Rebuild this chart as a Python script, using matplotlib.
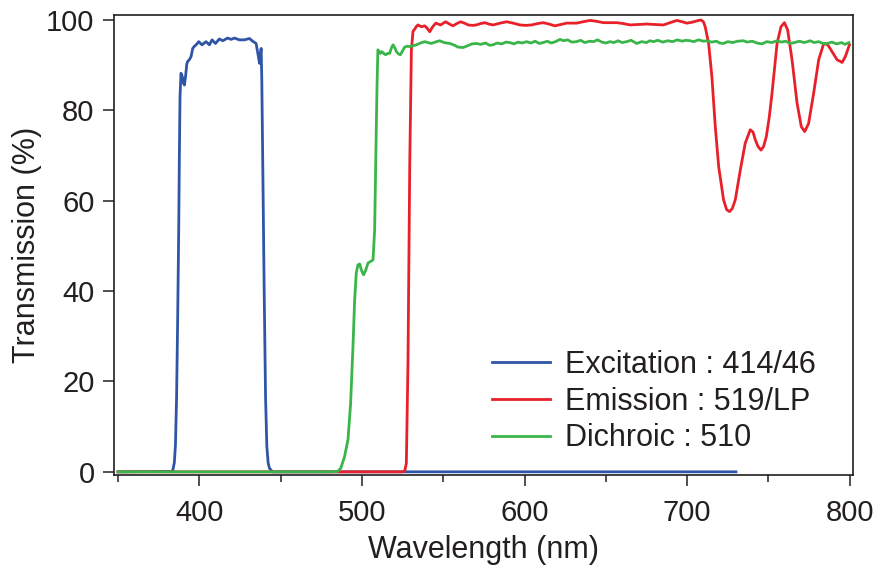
import matplotlib
matplotlib.use("Agg")
import matplotlib.pyplot as plt
from matplotlib.ticker import MultipleLocator

# ---- data ----
blue_wl = [350, 383.5, 384.6, 385.3, 386, 386.7, 387.3, 387.7, 388.1, 388.7, 389.5, 390.2, 390.8,
           391.5, 392.3, 392.8, 394, 394.9, 395.9, 397, 398, 399.6, 401.6, 404.1, 406.2, 407.8,
           409.9, 412.3, 414.4, 417.4, 419.5, 421.6, 424.6, 427.7, 430.8, 432.8, 434.9, 436.3,
           437, 437.6, 438, 438.4, 439, 439.8, 440.7, 441.5, 442.3, 443.1, 445, 730]
blue_t = [0, 0.1, 2, 6, 16.7, 35, 53.5, 70, 83, 88.2, 87.5, 86, 85.6,
          87.5, 90.3, 90.8, 91.3, 91.9, 93.7, 94.2, 94.5, 95.2, 94.5, 95.2, 94.5, 95.6,
          94.8, 95.8, 95.4, 96.0, 95.7, 96.0, 95.6, 95.6, 95.9, 95.3, 94.8, 91.9,
          90.4, 92.5, 93.7, 86.7, 68, 42, 16.7, 5.6, 2, 0.8, 0, 0]

red_wl = [350, 525, 526.3, 527.3, 528.3, 529.4, 530.4, 531.4, 532.5, 533.5, 534.5, 536.5, 538.6,
          540, 541.7, 543.5, 545.4, 548.3, 551.5, 553.8, 556, 558.3, 560.6, 563, 565.3, 568,
          570.4, 573, 575.6, 578, 580.7, 585, 589, 593, 597.1, 600.7, 604.3, 608, 611.5, 615,
          618.7, 622.3, 625.9, 632, 636, 640.3, 644.5, 648.5, 656.7, 660.8, 664.9, 670, 675.2,
          680, 685.4, 689.5, 693.7, 697, 699.8, 703, 706, 708.5, 710, 711.1, 713.2, 715.2,
          717.3, 719.4, 722.4, 724.3, 726.1, 727.8, 729.6, 732.7, 735.7, 738.8, 740.5, 741.9,
          743.6, 745.4, 747, 748.7, 750.5, 752.2, 755.3, 757.7, 759.8, 761.8, 764.5, 767.6,
          770.2, 772.3, 774.7, 777.8, 780.9, 784, 786.5, 789.1, 792.2, 795.3, 797.3, 799.8]
red_t = [0, 0, 0.2, 1.9, 24, 68.3, 93.4, 97.5, 98.0, 98.6, 98.9, 98.5, 98.7,
         98.2, 97.4, 98.5, 99.3, 98.9, 99.6, 99.1, 98.7, 99.2, 99.6, 99.3, 98.9, 98.8,
         98.9, 99.2, 99.4, 99.1, 98.9, 99.3, 99.6, 99.3, 98.9, 98.8, 98.9, 99.2, 99.4, 99.1,
         98.7, 99.0, 99.3, 99.3, 99.6, 99.9, 99.7, 99.4, 99.4, 99.2, 98.9, 99.0, 99.1,
         99.0, 98.9, 99.4, 99.9, 99.6, 99.3, 99.5, 99.8, 100.0, 99.6, 98.5, 94.8, 87.5,
         76.4, 67.5, 60.2, 58.0, 57.6, 58.3, 60.2, 66.8, 72.7, 75.7, 75.2, 73.5,
         72.0, 71.2, 72.0, 74.2, 78.5, 83.8, 94.8, 98.5, 99.4, 97.8, 91.2, 81.6,
         76.4, 75.3, 77.1, 83.8, 91.2, 94.8, 94.5, 93.0, 91.2, 90.6, 91.9, 94.5]

green_wl = [350, 480, 485, 487, 489.3, 491.4, 493, 494.5, 495.5, 496.5, 497.5, 498.6, 499.8, 501,
            502.3, 503.7, 505, 506.8, 507.8, 508.3, 508.8, 509.3, 509.8, 510.5, 511.3, 512.1,
            512.9, 513.7, 514.6, 515.8, 517, 518.1, 519.1, 520.1, 521.2, 522.4, 523.6, 525,
            526.3, 528, 529.4, 531.5, 533.5, 536, 538.6, 540.5, 542.7, 545, 547.8, 550.5, 554,
            557, 559, 562.2, 565, 567.5, 570.4, 573, 576, 578.5, 580.7, 583, 586, 588.5, 591,
            593.5, 596, 598.5, 601.3, 604, 606.5, 609, 611.5, 614, 616.5, 619, 621.8, 624,
            626.5, 629, 632, 634.5, 637, 640, 642.3, 645, 647.5, 650, 652.6, 655, 657.5, 660,
            662.9, 665.5, 669, 672, 675, 677, 679.3, 682, 685, 688, 691, 694, 697, 699, 701.9,
            704, 707, 710, 712.1, 715, 718, 720, 722.4, 725, 728, 731, 734.7, 737, 740, 743,
            746, 749, 752, 755.3, 758, 760.5, 763.5, 766, 769, 772, 775.8, 778, 781, 783.5,
            786.1, 789, 792, 795, 797, 799.5]
green_t = [0, 0, 0.1, 0.8, 3.4, 7.1, 15, 28, 38, 44, 45.8, 46.0, 44.5, 43.6,
           44.6, 46.2, 46.5, 46.9, 53.5, 65, 75.7, 86, 93.4, 93.0, 92.6, 93.0,
           92.8, 92.5, 92.3, 92.6, 92.6, 93.8, 94.5, 93.9, 93.0, 92.5, 92.3, 93.2,
           94.0, 94.2, 94.1, 94.3, 94.5, 94.9, 95.2, 95.0, 94.8, 95.1, 95.4, 95.0, 94.8,
           94.4, 94.0, 93.9, 94.3, 94.7, 94.8, 94.6, 94.9, 94.4, 94.5, 94.9, 94.7, 95.1, 95.0,
           94.7, 95.1, 94.9, 95.2, 94.9, 95.3, 94.8, 95.0, 95.3, 94.9, 95.2, 95.7, 95.4,
           95.6, 95.1, 95.2, 95.5, 95.0, 95.3, 95.2, 95.6, 95.1, 94.9, 95.2, 95.0, 95.4, 95.0,
           95.2, 95.5, 94.8, 95.2, 95.0, 95.4, 95.2, 95.5, 95.1, 95.4, 95.2, 95.6, 95.3, 95.5, 95.4,
           95.2, 95.6, 95.3, 95.4, 95.1, 95.3, 94.9, 94.8, 95.2, 95.0, 95.3, 95.4, 95.1, 95.3, 94.9,
           94.7, 95.2, 95.0, 95.4, 95.1, 95.3, 94.8, 95.0, 95.3, 95.0, 95.4, 95.0, 95.2, 94.8,
           94.8, 95.1, 94.7, 95.0, 94.6, 95.0]

labels = ["Excitation : 414/46", "Emission : 519/LP", "Dichroic : 510"]
colors = ["#2E55A6", "#E8202A", "#3AB54A"]
xticks = [400, 500, 600, 700, 800]
yticks = [0, 20, 40, 60, 80, 100]

# ---- plot ----
plt.rcParams['font.family'] = ['Liberation Sans', 'DejaVu Sans']
ink = "#231F20"
fig = plt.figure(figsize=(8.79, 5.71), dpi=100)
ax = fig.add_axes([114/879, 1 - 475/571, (853-114)/879, (475-15)/571])

ax.plot(blue_wl, blue_t, color=colors[0], lw=2.0, label=labels[0], zorder=2)
ax.plot(red_wl, red_t, color=colors[1], lw=2.0, label=labels[1], zorder=3)
ax.plot(green_wl, green_t, color=colors[2], lw=2.0, label=labels[2], zorder=4)

ax.set_xlim(347.5, 802)
ax.set_ylim(-0.7, 101.1)
ax.set_xticks(xticks)
ax.set_yticks(yticks)
ax.xaxis.set_minor_locator(MultipleLocator(50))
ax.tick_params(axis='both', which='major', direction='out', length=8, width=1.1,
               color=ink, labelcolor=ink, labelsize=21)
ax.tick_params(axis='x', which='major', pad=9)
ax.tick_params(axis='y', which='major', pad=6)
ax.tick_params(axis='x', which='minor', direction='out', length=5, width=1.1, color=ink)
for s in ax.spines.values():
    s.set_color(ink)
    s.set_linewidth(1.2)

ax.set_xlabel("Wavelength (nm)", fontsize=22, color=ink, labelpad=6)
ax.set_ylabel("Transmission (%)", fontsize=22, color=ink, labelpad=3)

leg = ax.legend(loc='upper left', bbox_to_anchor=(492/879, 1 - 350/571),
                bbox_transform=fig.transFigure, frameon=False, fontsize=22,
                handlelength=1.9, handletextpad=0.5, labelspacing=0.22,
                borderpad=0, borderaxespad=0)
for t in leg.get_texts():
    t.set_color(ink)

fig.savefig("out.png", dpi=100)
